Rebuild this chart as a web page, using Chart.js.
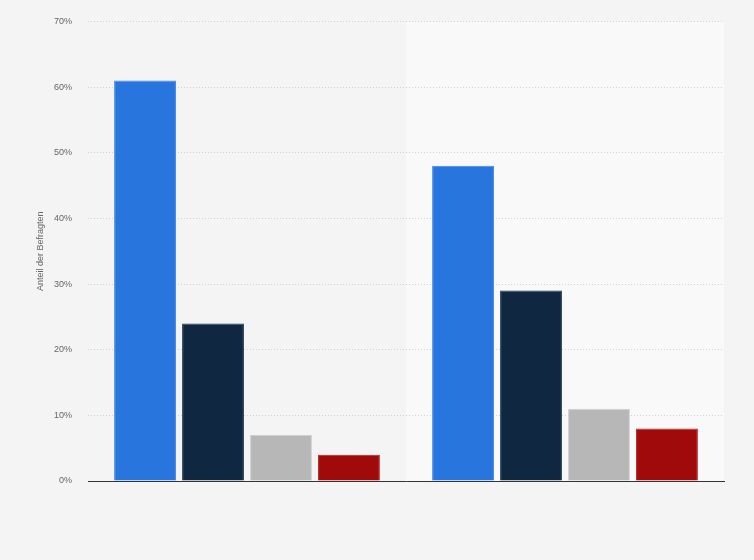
<!DOCTYPE html>
<html lang="de">
<head>
  <meta charset="UTF-8">
  <title>Anteil der Befragten</title>
  <script src="https://cdn.jsdelivr.net/npm/chart.js"></script>
  <style>
    html, body { margin: 0; padding: 0; background: #f4f4f4; }
    #wrap { width: 754px; height: 560px; }
  </style>
</head>
<body>
  <div id="wrap"><canvas id="chart" width="754" height="560"></canvas></div>
  <script>
    // data
    const categories = ['Gruppe 1', 'Gruppe 2'];
    const seriesNames = ['Serie 1', 'Serie 2', 'Serie 3', 'Serie 4'];
    const serie1 = [61, 48];
    const serie2 = [24, 29];
    const serie3 = [7, 11];
    const serie4 = [4, 8];
    const yTicks = [0, 10, 20, 30, 40, 50, 60, 70];

    const colors = ['#2876dd', '#0f2740', '#b7b7b7', '#a10a0a'];
    const edges = ['#3a86e8', '#1c3550', '#cfcfcf', '#b52020'];

    // lighter band behind the second category, drawn before the grid
    const bandPlugin = {
      id: 'band',
      beforeDraw(chart) {
        const { ctx, chartArea, scales } = chart;
        const x = scales.x;
        const w = (chartArea.right - chartArea.left) / categories.length;
        const cx = x.getPixelForValue(1);
        ctx.save();
        ctx.fillStyle = '#f9f9f9';
        ctx.fillRect(cx - w / 2, chartArea.top, w, chartArea.bottom - chartArea.top);
        ctx.restore();
      }
    };

    new Chart(document.getElementById('chart'), {
      type: 'bar',
      data: {
        labels: categories,
        datasets: [serie1, serie2, serie3, serie4].map((d, i) => ({
          label: seriesNames[i],
          data: d,
          backgroundColor: colors[i],
          borderColor: edges[i],
          borderWidth: { top: 1, left: 1, right: 1, bottom: 0 },
          categoryPercentage: 0.855,
          barPercentage: 0.91
        }))
      },
      options: {
        responsive: false,
        animation: false,
        layout: { padding: { top: 11, right: 30, bottom: 71, left: 35 } },
        plugins: {
          legend: { display: false },
          tooltip: { enabled: false }
        },
        scales: {
          x: {
            grid: { display: false },
            ticks: { display: false },
            border: { display: true, color: '#333333', width: 1 }
          },
          y: {
            min: 0,
            max: 70,
            afterBuildTicks(scale) { scale.ticks = yTicks.map(v => ({ value: v })); },
            afterFit(scale) { scale.width = 53; },
            ticks: {
              color: '#666666',
              font: { family: 'Arial, "Liberation Sans", sans-serif', size: 9 },
              padding: 16,
              callback: v => v + '%'
            },
            grid: { color: '#d2d2d2', drawTicks: false },
            border: { display: false, dash: [1, 2] },
            title: {
              display: true,
              text: 'Anteil der Befragten',
              color: '#666666',
              font: { family: 'Arial, "Liberation Sans", sans-serif', size: 9 },
              padding: { top: 0, bottom: 0 }
            }
          }
        }
      },
      plugins: [bandPlugin]
    });
  </script>
</body>
</html>
